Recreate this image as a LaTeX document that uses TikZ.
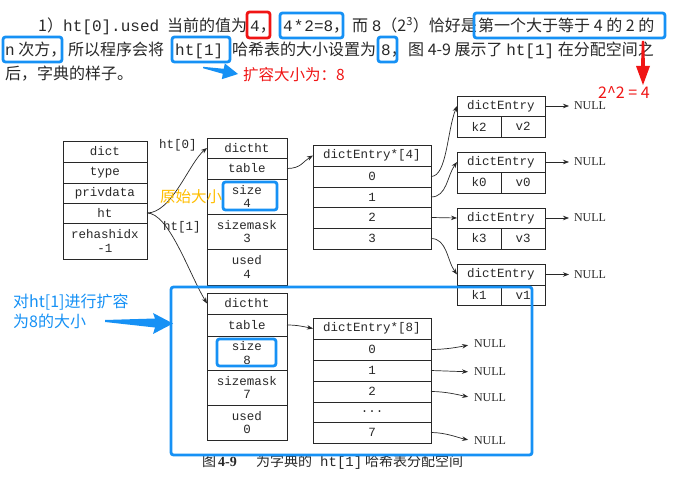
\documentclass[tikz,border=0pt]{standalone}
\usepackage{fontspec}
\setmainfont{Noto Sans CJK SC}
\setmonofont{Liberation Mono}
\newfontfamily\serifnf{Liberation Serif}
\usetikzlibrary{arrows.meta}
\definecolor{hlblue}{RGB}{22,145,245}
\definecolor{hlred}{RGB}{240,20,20}
\definecolor{ink}{RGB}{40,40,40}
\definecolor{orangey}{RGB}{255,190,0}
\tikzset{
  cell/.style={draw=ink, line width=0.9pt, inner sep=0pt, outer sep=0pt, align=center,
    font=\fontsize{12.5}{13.5}\selectfont\ttfamily, text=ink},
  para/.style={anchor=base west, inner sep=0pt, font=\fontsize{16}{18}\selectfont, text=ink},
  capt/.style={anchor=base west, inner sep=0pt, font=\fontsize{14}{16}\selectfont, text=ink},
  lbl/.style={inner sep=0pt, font=\fontsize{12.5}{13.5}\selectfont\ttfamily, text=ink},
  ptr/.style={draw=ink, line width=0.7pt, -{Stealth[length=6pt,width=4.5pt]}},
  hl/.style={draw=hlblue, line width=2.8pt, rounded corners=2.5pt},
  nulltxt/.style={anchor=west, inner sep=0pt, outer sep=0pt, font=\fontsize{12}{12}\selectfont\serifnf, text=ink},
  note/.style={anchor=base west, inner sep=0pt, font=\fontsize{16}{19}\selectfont},
}
\begin{document}
\begin{tikzpicture}[x=1pt,y=-1pt]
\useasboundingbox (0,0) rectangle (673,478);
\fill[white] (0,0) rectangle (673,478);

% ---------- paragraph ----------
\node[para] (p1a) at (38,31.5) {1）};
\node[para] (p1b) at (63,31.5) {\ttfamily ht[0].used};
\node[para] (p1c) at (167,31.5) {当前的值为};
\node[para] (p1d) at (250,31.5) {{\ttfamily 4}，};
\node[para] (p1e) at (283,31.5) {{\ttfamily 4\hspace{1pt}*\hspace{1pt}2=8}，};
\node[para] (p1f) at (352,31.5) {而 {\ttfamily 8}（2\textsuperscript{3}）恰好是};
\node[para] (p1g) at (478,31.5) {第一个大于等于 4 的 2 的};

\node[para] (p2a) at (5,55.5) {{\ttfamily n} 次方，};
\node[para] (p2b) at (68,55.5) {所以程序会将};
\node[para] (p2c) at (175,55.5) {\ttfamily ht[1]};
\node[para] (p2d) at (232,55.5) {哈希表的大小设置为};
\node[para] (p2e) at (381,55.5) {{\ttfamily 8}，};
\node[para] (p2f) at (408,55.5) {图 4-9 展示了 {\ttfamily ht[1]} 在分配空间之};

\node[para] (p3a) at (5,79.5) {后，字典的样子。};

% ---------- dict ----------
\node[cell, minimum width=84pt, minimum height=21pt] (dict) at (105,151.5) {dict};
\node[cell, minimum width=84pt, minimum height=21pt] (dtype) at (105,172.5) {type};
\node[cell, minimum width=84pt, minimum height=20pt] (dpriv) at (105,193) {privdata};
\node[cell, minimum width=84pt, minimum height=20pt] (dht) at (105,213) {ht};
\node[cell, minimum width=84pt, minimum height=36pt] (drehash) at (105,241) {rehashidx\\-1};

% ---------- dictht ht[0] ----------
\node[cell, minimum width=80pt, minimum height=20pt] (ha) at (247,148) {dictht};
\node[cell, minimum width=80pt, minimum height=21pt] (hatable) at (247,168.5) {table};
\node[cell, minimum width=80pt, minimum height=35pt] (hasize) at (247,196.5) {size\\4};
\node[cell, minimum width=80pt, minimum height=35pt] (hamask) at (247,231.5) {sizemask\\3};
\node[cell, minimum width=80pt, minimum height=36pt] (haused) at (247,267) {used\\4};

% ---------- table [4] ----------
\node[cell, minimum width=118pt, minimum height=21pt] (ta) at (372,155.5) {dictEntry*[4]};
\node[cell, minimum width=118pt, minimum height=21pt] (ta0) at (372,176.5) {0};
\node[cell, minimum width=118pt, minimum height=20pt] (ta1) at (372,197) {1};
\node[cell, minimum width=118pt, minimum height=21pt] (ta2) at (372,217.5) {2};
\node[cell, minimum width=118pt, minimum height=21pt] (ta3) at (372,238.5) {3};

% ---------- entries ----------
\node[cell, minimum width=88pt, minimum height=20pt] (e1) at (501,106) {dictEntry};
\node[cell, minimum width=44pt, minimum height=21pt] (e1k) at (479,126.5) {k2};
\node[cell, minimum width=44pt, minimum height=21pt] (e1v) at (523,126.5) {v2};
\node[cell, minimum width=88pt, minimum height=20pt] (e2) at (501,162) {dictEntry};
\node[cell, minimum width=44pt, minimum height=21pt] (e2k) at (479,182.5) {k0};
\node[cell, minimum width=44pt, minimum height=21pt] (e2v) at (523,182.5) {v0};
\node[cell, minimum width=88pt, minimum height=20pt] (e3) at (501,218) {dictEntry};
\node[cell, minimum width=44pt, minimum height=21pt] (e3k) at (479,238.5) {k3};
\node[cell, minimum width=44pt, minimum height=21pt] (e3v) at (523,238.5) {v3};
\node[cell, minimum width=88pt, minimum height=21pt] (e4) at (501,274.5) {dictEntry};
\node[cell, minimum width=44pt, minimum height=20pt] (e4k) at (479,295) {k1};
\node[cell, minimum width=44pt, minimum height=20pt] (e4v) at (523,295) {v1};

\node[nulltxt] (n1) at (574,106) {NULL};
\node[nulltxt] (n2) at (574,162) {NULL};
\node[nulltxt] (n3) at (574,218) {NULL};
\node[nulltxt] (n4) at (574,274.5) {NULL};
\foreach \e/\n in {e1/n1,e2/n2,e3/n3,e4/n4}
  \draw[ptr, shorten >=5pt] (\e.east) -- (\n.west);

% ---------- dictht ht[1] ----------
\node[cell, minimum width=80pt, minimum height=21pt] (hb) at (247,303.5) {dictht};
\node[cell, minimum width=80pt, minimum height=22pt] (hbtable) at (247,325) {table};
\node[cell, minimum width=80pt, minimum height=34pt] (hbsize) at (247,353) {size\\8};
\node[cell, minimum width=80pt, minimum height=35pt] (hbmask) at (247,387.5) {sizemask\\7};
\node[cell, minimum width=80pt, minimum height=35pt] (hbused) at (247,422.5) {used\\0};

% ---------- table [8] ----------
\node[cell, minimum width=118pt, minimum height=21pt] (tb) at (372,328.5) {dictEntry*[8]};
\node[cell, minimum width=118pt, minimum height=21pt] (tb0) at (372,349.5) {0};
\node[cell, minimum width=118pt, minimum height=21pt] (tb1) at (372,370.5) {1};
\node[cell, minimum width=118pt, minimum height=21pt] (tb2) at (372,391.5) {2};
\node[cell, minimum width=118pt, minimum height=20pt] (tbd) at (372,412) {...};
\node[cell, minimum width=118pt, minimum height=21pt] (tb7) at (372,432.5) {7};

\node[nulltxt] (m0) at (474,344) {NULL};
\node[nulltxt] (m1) at (474,372) {NULL};
\node[nulltxt] (m2) at (474,398) {NULL};
\node[nulltxt] (m7) at (474,441) {NULL};
\draw[ptr, shorten >=6pt] (tb0.east) .. controls +(15,0) and +(-15,3) .. (m0.west);
\draw[ptr, shorten >=6pt] (tb1.east) -- (m1.west);
\draw[ptr, shorten >=6pt] (tb2.east) .. controls +(15,0) and +(-15,-3) .. (m2.west);
\draw[ptr, shorten >=6pt] (tb7.east) .. controls +(15,0) and +(-15,-3) .. (m7.west);

% ---------- pointers ----------
\draw[ptr] (dht.east) .. controls +(25,0) and +(-18,15) .. (ha.west);
\draw[ptr] (dht.east) .. controls +(22,0) and +(-18,-30) .. (hb.west);
\node[lbl] (l0) at (178,145) {ht[0]};
\node[lbl] (l1) at (182,227) {ht[1]};
\draw[ptr] (hatable.east) .. controls +(14,0) and +(-10,6) .. (ta.west);
\draw[ptr] (hbtable.east) .. controls +(10,0) and +(-10,-2) .. (tb.west);
\draw[ptr] (ta0.east) .. controls +(16,0) and +(-10,25) .. (e1.west);
\draw[ptr] (ta1.east) .. controls +(16,0) and +(-10,14) .. (e2.west);
\draw[ptr] (ta2.east) -- (e3.west);
\draw[ptr] (ta3.east) .. controls +(16,0) and +(-10,-14) .. (e4.west);

% ---------- caption ----------
\node[capt] (c1) at (202,467) {图};
\node[capt] (c2) at (218,467) {\serifnf\bfseries 4-9};
\node[capt] (c3) at (256,467) {为字典的};
\node[capt] (c4) at (320,467) {\ttfamily ht[1]};
\node[capt] (c5) at (365,467) {哈希表分配空间};

% ---------- annotations ----------
\draw[hl, draw=hlred] (247,12) rectangle (270,38);
\draw[hl] (280,13) rectangle (343,38);
\draw[hl] (474,13) rectangle (665,38);
\draw[hl] (3,37) rectangle (62,62);
\draw[hl] (172,37) rectangle (230,62);
\draw[hl] (378,37) rectangle (397,62);
\draw[hl] (223,182) rectangle (277,210);
\draw[hl] (217,339) rectangle (276,366);
\draw[hl] (171,287) rectangle (532,455);

\fill[hlblue] (203,66.8) -- (223.8,68.8) -- (224.8,63.4) -- (238,74) -- (221.8,79.2) -- (222.8,73.8) -- (203,68.2) -- cycle;
\node[note, text=hlred, font=\fontsize{15.5}{18}\selectfont] (t1) at (243,81) {扩容大小为：8};

\fill[hlred] (641.8,41) -- (644.2,41) -- (645,66) -- (650,66) -- (643,85) -- (636,66) -- (641,66) -- cycle;
\node[note, text=hlred] (t2) at (598,98.5) {2\textasciicircum 2 = 4};

\node[note, text=orangey, font=\fontsize{15.5}{18}\selectfont] (t3) at (160,202.5) {原始大小};

\node[note, text=hlblue] (t4) at (13,307.5) {对ht[1]进行扩容};
\node[note, text=hlblue] (t5) at (13,327.5) {为8的大小};
\fill[hlblue] (105,320) -- (155,318.5) -- (153,313) -- (173,323.5) -- (153,334) -- (155,327.5) -- (105,322) -- cycle;
\end{tikzpicture}
\end{document}
